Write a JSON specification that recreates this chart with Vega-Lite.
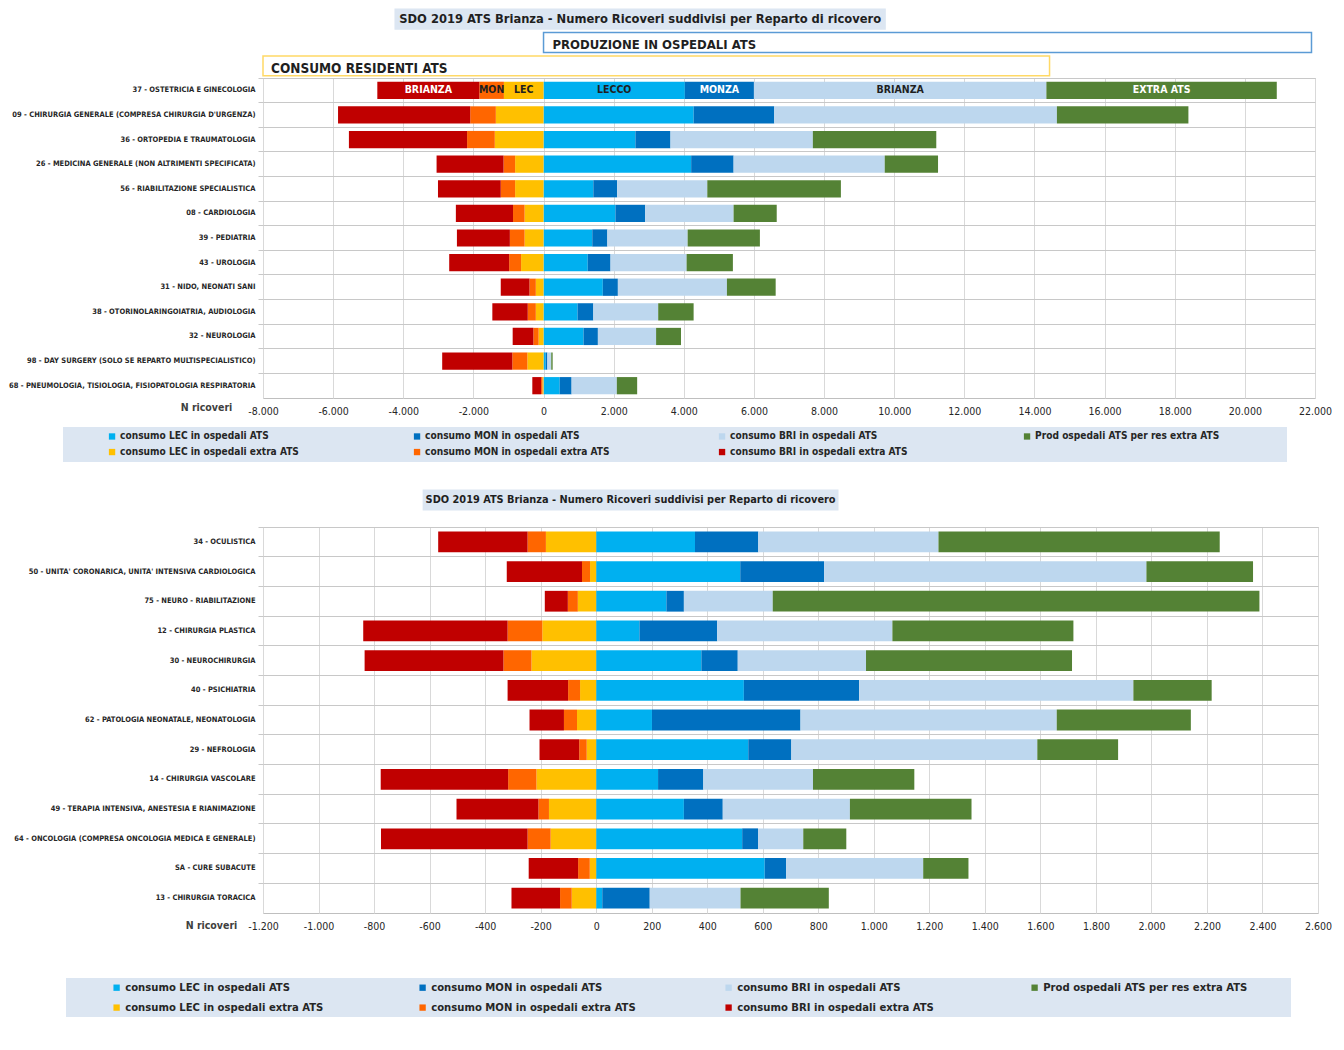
{
  "$schema": "https://vega.github.io/schema/vega-lite/v6.json",
  "padding": {"left": 8, "top": 8, "right": 8, "bottom": 0},
  "background": "white",
  "spacing": 0,
  "datasets": {
    "ann1": [
      {"riga": "titolo", "testo": "SDO 2019  ATS Brianza -  Numero Ricoveri suddivisi per Reparto di ricovero", "da": -4230, "a": 9740},
      {"riga": "produzione", "testo": "PRODUZIONE IN OSPEDALI ATS", "da": 0, "a": 21900},
      {"riga": "consumo", "testo": "CONSUMO RESIDENTI ATS", "da": -8000, "a": 14430}
    ],
    "ann2": [
      {"riga": "titolo", "testo": "SDO 2019 ATS Brianza -  Numero Ricoveri suddivisi per Reparto di ricovero", "da": -625, "a": 873}
    ],
    "etichette": [
      {"serie": "consumo BRI in ospedali extra ATS", "lab": "BRIANZA"},
      {"serie": "consumo MON in ospedali extra ATS", "lab": "MON"},
      {"serie": "consumo LEC in ospedali extra ATS", "lab": "LEC"},
      {"serie": "consumo LEC in ospedali ATS", "lab": "LECCO"},
      {"serie": "consumo MON in ospedali ATS", "lab": "MONZA"},
      {"serie": "consumo BRI in ospedali ATS", "lab": "BRIANZA"},
      {"serie": "Prod  ospedali ATS per res extra ATS", "lab": "EXTRA ATS"}
    ],
    "top": [
      {"reparto": "37 - OSTETRICIA E GINECOLOGIA", "consumo LEC in ospedali ATS": 4030, "consumo MON in ospedali ATS": 1970, "consumo BRI in ospedali ATS": 8340, "Prod  ospedali ATS per res extra ATS": 6570, "consumo LEC in ospedali extra ATS": -1130, "consumo MON in ospedali extra ATS": -700, "consumo BRI in ospedali extra ATS": -2910},
      {"reparto": "09 - CHIRURGIA GENERALE (COMPRESA CHIRURGIA D'URGENZA)", "consumo LEC in ospedali ATS": 4280, "consumo MON in ospedali ATS": 2300, "consumo BRI in ospedali ATS": 8060, "Prod  ospedali ATS per res extra ATS": 3750, "consumo LEC in ospedali extra ATS": -1360, "consumo MON in ospedali extra ATS": -730, "consumo BRI in ospedali extra ATS": -3770},
      {"reparto": "36 - ORTOPEDIA E TRAUMATOLOGIA", "consumo LEC in ospedali ATS": 2620, "consumo MON in ospedali ATS": 1000, "consumo BRI in ospedali ATS": 4060, "Prod  ospedali ATS per res extra ATS": 3520, "consumo LEC in ospedali extra ATS": -1390, "consumo MON in ospedali extra ATS": -790, "consumo BRI in ospedali extra ATS": -3370},
      {"reparto": "26 - MEDICINA GENERALE (NON ALTRIMENTI SPECIFICATA)", "consumo LEC in ospedali ATS": 4210, "consumo MON in ospedali ATS": 1210, "consumo BRI in ospedali ATS": 4310, "Prod  ospedali ATS per res extra ATS": 1520, "consumo LEC in ospedali extra ATS": -810, "consumo MON in ospedali extra ATS": -330, "consumo BRI in ospedali extra ATS": -1910},
      {"reparto": "56 - RIABILITAZIONE SPECIALISTICA", "consumo LEC in ospedali ATS": 1420, "consumo MON in ospedali ATS": 680, "consumo BRI in ospedali ATS": 2570, "Prod  ospedali ATS per res extra ATS": 3810, "consumo LEC in ospedali extra ATS": -810, "consumo MON in ospedali extra ATS": -410, "consumo BRI in ospedali extra ATS": -1790},
      {"reparto": "08 - CARDIOLOGIA", "consumo LEC in ospedali ATS": 2050, "consumo MON in ospedali ATS": 850, "consumo BRI in ospedali ATS": 2520, "Prod  ospedali ATS per res extra ATS": 1230, "consumo LEC in ospedali extra ATS": -540, "consumo MON in ospedali extra ATS": -330, "consumo BRI in ospedali extra ATS": -1630},
      {"reparto": "39 - PEDIATRIA", "consumo LEC in ospedali ATS": 1390, "consumo MON in ospedali ATS": 430, "consumo BRI in ospedali ATS": 2290, "Prod  ospedali ATS per res extra ATS": 2060, "consumo LEC in ospedali extra ATS": -540, "consumo MON in ospedali extra ATS": -420, "consumo BRI in ospedali extra ATS": -1510},
      {"reparto": "43 - UROLOGIA", "consumo LEC in ospedali ATS": 1260, "consumo MON in ospedali ATS": 650, "consumo BRI in ospedali ATS": 2170, "Prod  ospedali ATS per res extra ATS": 1320, "consumo LEC in ospedali extra ATS": -640, "consumo MON in ospedali extra ATS": -340, "consumo BRI in ospedali extra ATS": -1710},
      {"reparto": "31 - NIDO, NEONATI SANI", "consumo LEC in ospedali ATS": 1690, "consumo MON in ospedali ATS": 430, "consumo BRI in ospedali ATS": 3110, "Prod  ospedali ATS per res extra ATS": 1390, "consumo LEC in ospedali extra ATS": -220, "consumo MON in ospedali extra ATS": -180, "consumo BRI in ospedali extra ATS": -820},
      {"reparto": "38 - OTORINOLARINGOIATRIA, AUDIOLOGIA", "consumo LEC in ospedali ATS": 970, "consumo MON in ospedali ATS": 450, "consumo BRI in ospedali ATS": 1850, "Prod  ospedali ATS per res extra ATS": 1010, "consumo LEC in ospedali extra ATS": -220, "consumo MON in ospedali extra ATS": -230, "consumo BRI in ospedali extra ATS": -1010},
      {"reparto": "32 - NEUROLOGIA", "consumo LEC in ospedali ATS": 1140, "consumo MON in ospedali ATS": 410, "consumo BRI in ospedali ATS": 1660, "Prod  ospedali ATS per res extra ATS": 710, "consumo LEC in ospedali extra ATS": -140, "consumo MON in ospedali extra ATS": -150, "consumo BRI in ospedali extra ATS": -590},
      {"reparto": "98 - DAY SURGERY (SOLO SE REPARTO MULTISPECIALISTICO)", "consumo LEC in ospedali ATS": 60, "consumo MON in ospedali ATS": 50, "consumo BRI in ospedali ATS": 110, "Prod  ospedali ATS per res extra ATS": 40, "consumo LEC in ospedali extra ATS": -460, "consumo MON in ospedali extra ATS": -430, "consumo BRI in ospedali extra ATS": -2000},
      {"reparto": "68 - PNEUMOLOGIA, TISIOLOGIA, FISIOPATOLOGIA RESPIRATORIA", "consumo LEC in ospedali ATS": 460, "consumo MON in ospedali ATS": 340, "consumo BRI in ospedali ATS": 1290, "Prod  ospedali ATS per res extra ATS": 580, "consumo LEC in ospedali extra ATS": -30, "consumo MON in ospedali extra ATS": -40, "consumo BRI in ospedali extra ATS": -250}
    ],
    "bottom": [
      {"reparto": "34 - OCULISTICA", "consumo LEC in ospedali ATS": 356, "consumo MON in ospedali ATS": 228, "consumo BRI in ospedali ATS": 649, "Prod  ospedali ATS per res extra ATS": 1013, "consumo LEC in ospedali extra ATS": -181, "consumo MON in ospedali extra ATS": -66, "consumo BRI in ospedali extra ATS": -322},
      {"reparto": "50 - UNITA' CORONARICA, UNITA' INTENSIVA CARDIOLOGICA", "consumo LEC in ospedali ATS": 519, "consumo MON in ospedali ATS": 302, "consumo BRI in ospedali ATS": 1161, "Prod  ospedali ATS per res extra ATS": 384, "consumo LEC in ospedali extra ATS": -22, "consumo MON in ospedali extra ATS": -29, "consumo BRI in ospedali extra ATS": -271},
      {"reparto": "75 - NEURO - RIABILITAZIONE", "consumo LEC in ospedali ATS": 253, "consumo MON in ospedali ATS": 63, "consumo BRI in ospedali ATS": 320, "Prod  ospedali ATS per res extra ATS": 1753, "consumo LEC in ospedali extra ATS": -66, "consumo MON in ospedali extra ATS": -36, "consumo BRI in ospedali extra ATS": -83},
      {"reparto": "12 - CHIRURGIA PLASTICA", "consumo LEC in ospedali ATS": 156, "consumo MON in ospedali ATS": 280, "consumo BRI in ospedali ATS": 631, "Prod  ospedali ATS per res extra ATS": 652, "consumo LEC in ospedali extra ATS": -194, "consumo MON in ospedali extra ATS": -125, "consumo BRI in ospedali extra ATS": -520},
      {"reparto": "30 - NEUROCHIRURGIA", "consumo LEC in ospedali ATS": 379, "consumo MON in ospedali ATS": 131, "consumo BRI in ospedali ATS": 462, "Prod  ospedali ATS per res extra ATS": 742, "consumo LEC in ospedali extra ATS": -233, "consumo MON in ospedali extra ATS": -101, "consumo BRI in ospedali extra ATS": -500},
      {"reparto": "40 - PSICHIATRIA", "consumo LEC in ospedali ATS": 532, "consumo MON in ospedali ATS": 415, "consumo BRI in ospedali ATS": 988, "Prod  ospedali ATS per res extra ATS": 282, "consumo LEC in ospedali extra ATS": -58, "consumo MON in ospedali extra ATS": -43, "consumo BRI in ospedali extra ATS": -218},
      {"reparto": "62 - PATOLOGIA NEONATALE, NEONATOLOGIA", "consumo LEC in ospedali ATS": 201, "consumo MON in ospedali ATS": 535, "consumo BRI in ospedali ATS": 923, "Prod  ospedali ATS per res extra ATS": 483, "consumo LEC in ospedali extra ATS": -69, "consumo MON in ospedali extra ATS": -47, "consumo BRI in ospedali extra ATS": -124},
      {"reparto": "29 - NEFROLOGIA", "consumo LEC in ospedali ATS": 548, "consumo MON in ospedali ATS": 155, "consumo BRI in ospedali ATS": 886, "Prod  ospedali ATS per res extra ATS": 291, "consumo LEC in ospedali extra ATS": -34, "consumo MON in ospedali extra ATS": -27, "consumo BRI in ospedali extra ATS": -143},
      {"reparto": "14 - CHIRURGIA VASCOLARE", "consumo LEC in ospedali ATS": 223, "consumo MON in ospedali ATS": 163, "consumo BRI in ospedali ATS": 395, "Prod  ospedali ATS per res extra ATS": 365, "consumo LEC in ospedali extra ATS": -215, "consumo MON in ospedali extra ATS": -102, "consumo BRI in ospedali extra ATS": -459},
      {"reparto": "49 - TERAPIA INTENSIVA, ANESTESIA E RIANIMAZIONE", "consumo LEC in ospedali ATS": 316, "consumo MON in ospedali ATS": 140, "consumo BRI in ospedali ATS": 458, "Prod  ospedali ATS per res extra ATS": 438, "consumo LEC in ospedali extra ATS": -170, "consumo MON in ospedali extra ATS": -38, "consumo BRI in ospedali extra ATS": -295},
      {"reparto": "64 - ONCOLOGIA (COMPRESA ONCOLOGIA MEDICA E GENERALE)", "consumo LEC in ospedali ATS": 526, "consumo MON in ospedali ATS": 57, "consumo BRI in ospedali ATS": 163, "Prod  ospedali ATS per res extra ATS": 155, "consumo LEC in ospedali extra ATS": -164, "consumo MON in ospedali extra ATS": -83, "consumo BRI in ospedali extra ATS": -528},
      {"reparto": "SA - CURE SUBACUTE", "consumo LEC in ospedali ATS": 607, "consumo MON in ospedali ATS": 77, "consumo BRI in ospedali ATS": 494, "Prod  ospedali ATS per res extra ATS": 163, "consumo LEC in ospedali extra ATS": -23, "consumo MON in ospedali extra ATS": -42, "consumo BRI in ospedali extra ATS": -178},
      {"reparto": "13 - CHIRURGIA TORACICA", "consumo LEC in ospedali ATS": 22, "consumo MON in ospedali ATS": 171, "consumo BRI in ospedali ATS": 327, "Prod  ospedali ATS per res extra ATS": 318, "consumo LEC in ospedali extra ATS": -88, "consumo MON in ospedali extra ATS": -42, "consumo BRI in ospedali extra ATS": -175}
    ]
  },
  "vconcat": [
    {
      "width": 1052,
      "height": 69,
      "view": {"stroke": null},
      "data": {"name": "ann1"},
      "encoding": {
        "y": {"field": "riga", "type": "nominal", "sort": null, "scale": {"domain": ["titolo", "produzione", "consumo"], "paddingInner": 0.15, "paddingOuter": 0.05}, "axis": null},
        "x": {"field": "da", "type": "quantitative", "scale": {"domain": [-8000, 22000], "nice": false, "zero": false}, "axis": null}
      },
      "layer": [
        {
          "mark": {"type": "rect", "strokeWidth": 1.5},
          "encoding": {
            "x2": {"field": "a"},
            "fill": {"field": "riga", "type": "nominal", "scale": {"domain": ["titolo", "produzione", "consumo"], "range": ["#DCE6F2", "#FFFFFF", "#FFFFFF"]}, "legend": null},
            "stroke": {"field": "riga", "type": "nominal", "scale": {"domain": ["titolo", "produzione", "consumo"], "range": ["#DCE6F2", "#5B9BD5", "#FFD966"]}, "legend": null}
          }
        },
        {
          "transform": [{"filter": "datum.riga == 'titolo'"}, {"calculate": "(datum.da + datum.a) / 2", "as": "centro"}],
          "mark": {"type": "text", "align": "center", "baseline": "middle", "fontSize": 12.8, "fontWeight": "bold", "color": "#1F1F1F"},
          "encoding": {"x": {"field": "centro", "type": "quantitative"}, "text": {"field": "testo"}}
        },
        {
          "transform": [{"filter": "datum.riga == 'produzione'"}],
          "mark": {"type": "text", "align": "left", "baseline": "middle", "dx": 9, "dy": 2, "fontSize": 13, "fontWeight": "bold", "color": "#1F1F1F"},
          "encoding": {"text": {"field": "testo"}}
        },
        {
          "transform": [{"filter": "datum.riga == 'consumo'"}],
          "mark": {"type": "text", "align": "left", "baseline": "middle", "dx": 8, "dy": 3, "fontSize": 13.5, "fontWeight": "bold", "color": "#1F1F1F"},
          "encoding": {"text": {"field": "testo"}}
        }
      ]
    },
    {
      "width": 1052,
      "height": 320,
      "data": {"name": "top"},
      "transform": [
        {"fold": ["consumo LEC in ospedali ATS", "consumo MON in ospedali ATS", "consumo BRI in ospedali ATS", "Prod  ospedali ATS per res extra ATS", "consumo LEC in ospedali extra ATS", "consumo MON in ospedali extra ATS", "consumo BRI in ospedali extra ATS"], "as": ["serie", "n"]},
        {"calculate": "indexof(['consumo LEC in ospedali ATS', 'consumo MON in ospedali ATS', 'consumo BRI in ospedali ATS', 'Prod  ospedali ATS per res extra ATS', 'consumo LEC in ospedali extra ATS', 'consumo MON in ospedali extra ATS', 'consumo BRI in ospedali extra ATS'], datum.serie)", "as": "ord"}
      ],
      "encoding": {
        "y": {"field": "reparto", "type": "nominal", "sort": null, "scale": {"paddingInner": 0, "paddingOuter": 0},
          "axis": {"title": null, "labelFontSize": 7.5, "labelFontWeight": "bold", "labelColor": "#262626", "labelPadding": 3, "ticks": true, "tickSize": 5, "tickColor": "#C8C8C8", "bandPosition": 0, "grid": true, "gridColor": "#C8C8C8", "domain": false, "labelLimit": 400}}
      },
      "layer": [
        {
          "mark": {"type": "bar", "height": {"band": 0.7}},
          "encoding": {
            "x": {"field": "n", "type": "quantitative", "stack": "zero", "scale": {"domain": [-8000, 22000], "nice": false},
              "axis": {"values": [-8000, -6000, -4000, -2000, 0, 2000, 4000, 6000, 8000, 10000, 12000, 14000, 16000, 18000, 20000, 22000], "labelExpr": "(datum.value < 0 ? '-' : '') + replace(format(abs(datum.value), ','), ',', '.')", "labelFlush": false, "grid": true, "gridColor": "#D9D9D9", "ticks": false, "tickSize": 0, "domain": false, "labelFontSize": 10.5, "labelColor": "#262626", "labelPadding": 8, "title": "N ricoveri", "titleFontSize": 10.5, "titleFontWeight": "bold", "titleColor": "#404040", "titleX": -57, "titleY": 9, "titleBaseline": "middle", "titleAlign": "center", "titleAnchor": null}},
            "color": {"field": "serie", "type": "nominal",
              "scale": {"domain": ["consumo LEC in ospedali ATS", "consumo MON in ospedali ATS", "consumo BRI in ospedali ATS", "Prod  ospedali ATS per res extra ATS", "consumo LEC in ospedali extra ATS", "consumo MON in ospedali extra ATS", "consumo BRI in ospedali extra ATS"], "range": ["#00B0F0", "#0070C0", "#BDD7EE", "#548235", "#FFC000", "#FF6600", "#C00000"]},
              "legend": {"orient": "none", "legendX": -200, "legendY": 349, "direction": "horizontal", "columns": 4, "title": " ", "titleOrient": "right", "titlePadding": 61, "fillColor": "#DCE6F2", "padding": 4, "symbolType": "square", "symbolSize": 40, "symbolStrokeWidth": 0, "symbolOffset": 40, "labelFontSize": 10.1, "labelFontWeight": "bold", "labelColor": "#262626", "gridAlign": "all", "columnPadding": 64, "rowPadding": 5, "labelOffset": 3, "labelLimit": 400}},
            "order": {"field": "ord", "type": "quantitative"}
          }
        },
        {
          "transform": [
            {"filter": "datum.reparto == '37 - OSTETRICIA E GINECOLOGIA'"},
            {"stack": "n", "groupby": ["reparto"], "sort": [{"field": "ord", "order": "ascending"}], "as": ["s0", "s1"]},
            {"lookup": "serie", "from": {"data": {"name": "etichette"}, "key": "serie", "fields": ["lab"]}},
            {"filter": "datum.lab != null"},
            {"calculate": "(datum.s0 + datum.s1) / 2", "as": "centro"}
          ],
          "mark": {"type": "text", "align": "center", "baseline": "middle", "fontSize": 10.5, "fontWeight": "bold"},
          "encoding": {
            "x": {"field": "centro", "type": "quantitative"},
            "text": {"field": "lab"},
            "color": {"condition": {"test": "indexof(['consumo BRI in ospedali extra ATS', 'consumo MON in ospedali ATS', 'Prod  ospedali ATS per res extra ATS'], datum.serie) >= 0", "value": "#FFFFFF"}, "value": "#1F1F1F"}
          }
        }
      ]
    },
    {
      "width": 1055,
      "height": 63,
      "view": {"stroke": null},
      "data": {"name": "ann2"},
      "encoding": {
        "y": {"field": "riga", "type": "nominal", "sort": null, "scale": {"domain": ["titolo"], "paddingInner": 0, "paddingOuter": 1.353, "align": 0.63}, "axis": null},
        "x": {"field": "da", "type": "quantitative", "scale": {"domain": [-1200, 2600], "nice": false, "zero": false}, "axis": null}
      },
      "layer": [
        {
          "mark": {"type": "rect", "color": "#DCE6F2"},
          "encoding": {"x2": {"field": "a"}}
        },
        {
          "transform": [{"calculate": "(datum.da + datum.a) / 2", "as": "centro"}],
          "mark": {"type": "text", "align": "center", "baseline": "middle", "fontSize": 10.9, "fontWeight": "bold", "color": "#1F1F1F"},
          "encoding": {"x": {"field": "centro", "type": "quantitative"}, "text": {"field": "testo"}}
        }
      ]
    },
    {
      "width": 1055,
      "height": 386,
      "data": {"name": "bottom"},
      "transform": [
        {"fold": ["consumo LEC in ospedali ATS", "consumo MON in ospedali ATS", "consumo BRI in ospedali ATS", "Prod  ospedali ATS per res extra ATS", "consumo LEC in ospedali extra ATS", "consumo MON in ospedali extra ATS", "consumo BRI in ospedali extra ATS"], "as": ["serie", "n"]},
        {"calculate": "indexof(['consumo LEC in ospedali ATS', 'consumo MON in ospedali ATS', 'consumo BRI in ospedali ATS', 'Prod  ospedali ATS per res extra ATS', 'consumo LEC in ospedali extra ATS', 'consumo MON in ospedali extra ATS', 'consumo BRI in ospedali extra ATS'], datum.serie)", "as": "ord"}
      ],
      "mark": {"type": "bar", "height": {"band": 0.7}},
      "encoding": {
        "y": {"field": "reparto", "type": "nominal", "sort": null, "scale": {"paddingInner": 0, "paddingOuter": 0},
          "axis": {"title": null, "labelFontSize": 7.5, "labelFontWeight": "bold", "labelColor": "#262626", "labelPadding": 3, "ticks": true, "tickSize": 5, "tickColor": "#C8C8C8", "bandPosition": 0, "grid": true, "gridColor": "#C8C8C8", "domain": false, "labelLimit": 400}},
        "x": {"field": "n", "type": "quantitative", "stack": "zero", "scale": {"domain": [-1200, 2600], "nice": false},
          "axis": {"values": [-1200, -1000, -800, -600, -400, -200, 0, 200, 400, 600, 800, 1000, 1200, 1400, 1600, 1800, 2000, 2200, 2400, 2600], "labelExpr": "(datum.value < 0 ? '-' : '') + replace(format(abs(datum.value), ','), ',', '.')", "labelFlush": false, "grid": true, "gridColor": "#D9D9D9", "ticks": false, "tickSize": 0, "domain": false, "labelFontSize": 10.5, "labelColor": "#262626", "labelPadding": 8, "title": "N ricoveri", "titleFontSize": 10.5, "titleFontWeight": "bold", "titleColor": "#404040", "titleX": -52, "titleY": 12, "titleBaseline": "middle", "titleAlign": "center", "titleAnchor": null}},
        "color": {"field": "serie", "type": "nominal",
          "scale": {"domain": ["consumo LEC in ospedali ATS", "consumo MON in ospedali ATS", "consumo BRI in ospedali ATS", "Prod  ospedali ATS per res extra ATS", "consumo LEC in ospedali extra ATS", "consumo MON in ospedali extra ATS", "consumo BRI in ospedali extra ATS"], "range": ["#00B0F0", "#0070C0", "#BDD7EE", "#548235", "#FFC000", "#FF6600", "#C00000"]},
          "legend": {"orient": "none", "legendX": -197, "legendY": 451, "direction": "horizontal", "columns": 4, "title": " ", "titleOrient": "right", "titlePadding": 36, "fillColor": "#DCE6F2", "padding": 4, "symbolType": "square", "symbolSize": 40, "symbolStrokeWidth": 0, "symbolOffset": 41, "labelFontSize": 11.2, "labelFontWeight": "bold", "labelColor": "#262626", "gridAlign": "all", "columnPadding": 43, "rowPadding": 8, "labelOffset": 3, "labelLimit": 400}},
        "order": {"field": "ord", "type": "quantitative"}
      }
    }
  ],
  "resolve": {"scale": {"x": "independent", "y": "independent", "color": "independent", "fill": "independent", "stroke": "independent"}},
  "config": {
    "font": "Liberation Sans Narrow, DejaVu Sans Condensed, sans-serif",
    "view": {"stroke": "#BFBFBF"},
    "axis": {"labelFont": "Liberation Sans Narrow, DejaVu Sans Condensed, sans-serif", "titleFont": "Liberation Sans Narrow, DejaVu Sans Condensed, sans-serif"},
    "legend": {"labelFont": "Liberation Sans Narrow, DejaVu Sans Condensed, sans-serif"},
    "text": {"font": "Liberation Sans Narrow, DejaVu Sans Condensed, sans-serif"}
  }
}
